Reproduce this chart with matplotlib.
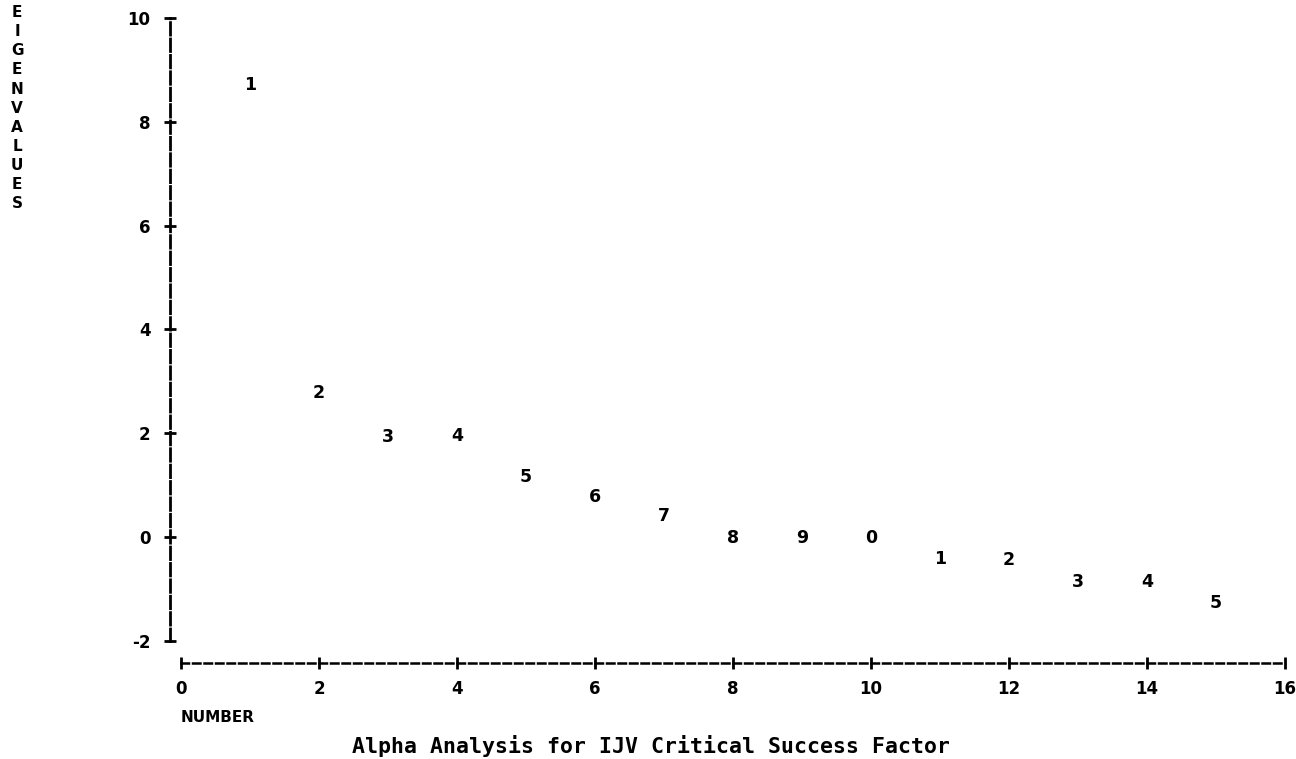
import matplotlib.pyplot as plt

plt.rcParams["font.family"] = ["DejaVu Sans"]
plt.rcParams["font.weight"] = "bold"
plt.rcParams["axes.unicode_minus"] = False

# scree plot values
number = [1, 2, 3, 4, 5, 6, 7, 8, 9, 10, 11, 12, 13, 14, 15]
eigenvalues = [8.70, 2.77, 1.93, 1.95, 1.16, 0.77, 0.40, -0.02, -0.02, -0.02,
               -0.42, -0.44, -0.87, -0.87, -1.27]
xticks = [0, 2, 4, 6, 8, 10, 12, 14, 16]
yticks = [-2, 0, 2, 4, 6, 8, 10]

fig = plt.figure(figsize=(12.96, 7.59), dpi=100)
ax = fig.add_axes([0.1397, 0.1555, 0.8519, 0.8208])

for x, y in zip(number, eigenvalues):
    ax.text(x, y, str(x % 10), ha="center", va="center",
            fontsize=12.5, fontweight="bold")

ax.set_xlim(0, 16)
ax.set_ylim(-2, 10)
ax.set_xticks(xticks)
ax.set_yticks(yticks)

for side in ["top", "right"]:
    ax.spines[side].set_visible(False)
ax.spines["left"].set_position(("outward", 8))
ax.spines["bottom"].set_position(("outward", 16))
ax.spines["left"].set_linestyle((0, (4.5, 1.4)))
ax.spines["left"].set_linewidth(2.0)
ax.spines["bottom"].set_linestyle((0, (3, 1.6)))
ax.spines["bottom"].set_linewidth(1.8)

ax.tick_params(axis="both", direction="inout", length=8, width=2,
               labelsize=12)
ax.tick_params(axis="x", pad=8)
ax.tick_params(axis="y", pad=10)
for lbl in ax.get_xticklabels() + ax.get_yticklabels():
    lbl.set_fontweight("bold")

fig.text(17 / 1296, 1 - 5 / 759, "\n".join("EIGENVALUES"), ha="center",
         va="top", fontsize=11, fontweight="bold", linespacing=1.345)
fig.text(181 / 1296, 1 - 718 / 759, "NUMBER", ha="left", va="center",
         fontsize=11, fontweight="bold")
fig.text(651 / 1296, 1 - 746 / 759,
         "Alpha Analysis for IJV Critical Success Factor",
         ha="center", va="center", fontsize=15.5, fontweight="bold",
         family="DejaVu Sans Mono")

fig.savefig("out.png", dpi=100)
